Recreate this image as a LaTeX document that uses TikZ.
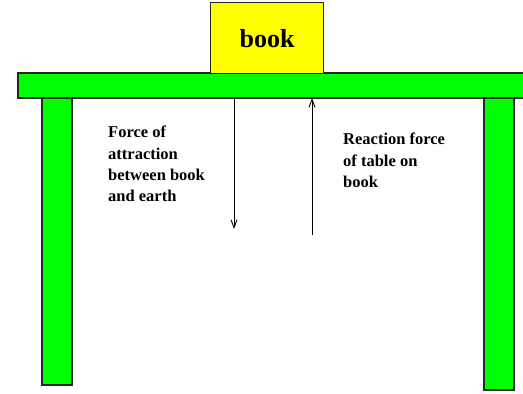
\documentclass[tikz,border=0pt]{standalone}
\usepackage{fontspec}
\setmainfont{Liberation Serif}
\usetikzlibrary{arrows.meta}
\begin{document}
\begin{tikzpicture}[x=1pt,y=-1pt,
  part/.style={draw=black!85,line width=1.4pt},
  lbl/.style={font=\fontsize{16.5}{21.3}\selectfont\bfseries,align=left,anchor=north west,inner sep=0pt},
  force/.style={line width=0.9pt,-{Straight Barb[length=8pt,width=6pt]}}]
\useasboundingbox (0,0) rectangle (523,394);
\fill[white] (0,0) rectangle (523,394);
\draw[part,fill={rgb,255:red,0;green,255;blue,0}] (42,98) rectangle (72,385);
\draw[part,fill={rgb,255:red,0;green,255;blue,0}] (484,98) rectangle (514,390);
\draw[part,fill={rgb,255:red,0;green,255;blue,0}] (18,73) rectangle (526,98);
\node[part,fill={rgb,255:red,255;green,255;blue,0},minimum width=113pt,minimum height=71pt,anchor=north west,inner sep=0pt,
  font=\fontsize{26}{30}\selectfont\bfseries] (book) at (210,2) {book};
\coordinate (dtop) at (234,98);
\coordinate (dbot) at (234,229);
\coordinate (ubot) at (312,235);
\coordinate (utop) at (312,98);
\draw[force] (dtop) -- (dbot);
\draw[force] (ubot) -- (utop);
\node[lbl] (left) at (108,126) {Force of\\attraction\\between book\\and earth};
\node[lbl] (right) at (343,133) {Reaction force\\of table on\\book};
\end{tikzpicture}
\end{document}
